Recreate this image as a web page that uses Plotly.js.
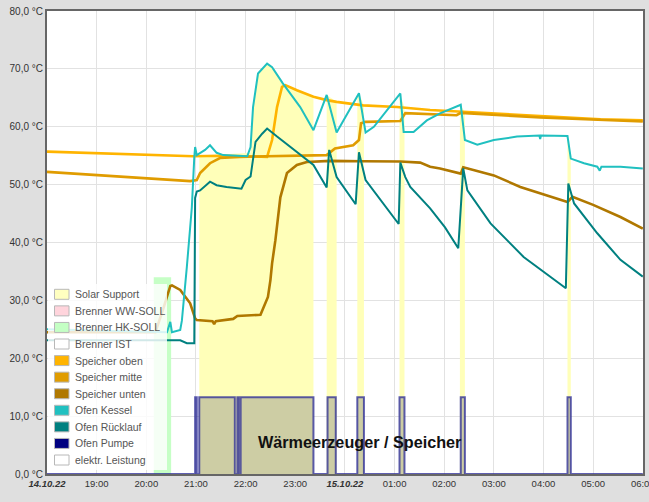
<!DOCTYPE html>
<html>
<head>
<meta charset="utf-8">
<script src="https://cdn.plot.ly/plotly-3.0.1.min.js"></script>
<style>html,body{margin:0;padding:0;background:#dfdfdf;}#chart{width:649px;height:502px;}</style>
</head>
<body>
<div id="chart"></div>
<script>
// ---------- data ----------
const hourTicks = ['18:00','19:00','20:00','21:00','22:00','23:00','00:00','01:00','02:00','03:00','04:00','05:00','06:00'];
const hourLabels = ['<b><i>14.10.22</i></b>','19:00','20:00','21:00','22:00','23:00','<b><i>15.10.22</i></b>','01:00','02:00','03:00','04:00','05:00','06:00'];
const yTicks = [0,10,20,30,40,50,60,70,80];
const yLabels = ['0,0 °C','10,0 °C','20,0 °C','30,0 °C','40,0 °C','50,0 °C','60,0 °C','70,0 °C','80,0 °C'];

const seriesNames = ['Solar Support','Brenner WW-SOLL','Brenner HK-SOLL','Brenner IST','Speicher oben','Speicher mitte','Speicher unten','Ofen Kessel','Ofen Rücklauf','Ofen Pumpe','elektr. Leistung'];
const seriesColors = ['#ffffc0','#ffd4dc','#c4ffc4','#ffffff','#ffb400','#e09c00','#b07800','#20c0c0','#008080','#000080','#ffffff'];

const solarT = ['18:00','21:04','21:04','22:06','22:09','22:15','22:26','22:32','22:45','22:48','23:02','23:22','23:22','23:38','23:38','23:50','23:50','00:15','00:15','00:17','00:23','00:23','01:06','01:06','01:12','01:12','02:19','02:19','02:25','02:25','04:29','04:29','04:33','04:33','06:00'];
const solarV = [0,0,55.0,55.5,63.4,69.2,70.9,70.3,67.5,67.2,66.3,65.2,0,0,65.5,64.3,0,0,65.5,65.8,63.7,0,0,65.8,63.4,0,0,63.8,62.6,0,0,58.4,55.0,0,0];

const hkT = ['18:00','20:09','20:30','06:00'];
const hkV = [0,34,0,0];

const obenT = ['18:00','19:04','20:01','20:57','21:30','22:00','22:26','22:32','22:38','22:44','22:48','23:02','23:22','23:38','23:50','00:22','01:03','01:43','02:20','03:56','05:09','06:00'];
const obenV = [55.7,55.4,55.15,54.9,55.0,54.9,54.8,57.7,63.4,66.9,67.2,66.3,65.2,64.6,64.3,63.7,63.4,62.9,62.6,61.8,61.3,61.1];

const mitteT = ['18:00','19:04','20:01','20:53','21:01','21:05','21:17','21:29','21:53','22:50','23:38','23:48','00:10','00:17','00:19:30','00:25','01:07','01:13','02:15','02:20','03:56','06:00'];
const mitteV = [52.2,51.6,51.1,50.6,50.8,52.0,53.7,54.6,54.8,55.0,55.1,56.25,56.8,57.7,60.6,60.85,61.0,62.35,62.0,62.4,61.6,60.9];

const untenT = ['18:00','20:11','20:20','20:29','20:31','20:41','20:53','20:57','20:59','21:01','21:20','21:22','21:24','21:45','21:50','22:18','22:22','22:27','22:30','22:32','22:36','22:39','22:42','22:50','23:02','23:14','23:42','00:22','01:07','01:31','01:43','01:55','02:20','02:23','03:00','03:32','04:29','04:35','05:00','05:33','06:00'];
const untenV = [24.5,24.5,28.3,32.5,32.6,31.8,29.5,27.8,26.9,26.6,26.4,25.9,26.4,26.8,27.3,27.5,28.9,30.6,33.5,36.4,40.4,44.4,47.8,52.0,53.4,53.9,54.1,54.05,54.0,53.8,53.1,52.8,51.9,53.0,51.6,49.6,47.0,47.9,46.5,44.4,42.4];

const kesselT = ['18:00','20:11','20:25','20:29','20:31','20:41','20:43','20:49','20:55','20:58','20:59','21:01','21:05','21:11','21:17','21:25','21:33','22:02','22:06','22:09','22:15','22:26','22:32','22:45','23:06','23:22','23:38','23:50','00:17','00:25','00:35','01:07','01:11','01:23','01:39','01:55','02:20','02:25','02:40','03:00','03:28','03:55','03:56','03:57','04:29','04:33','04:49','05:05','05:08','05:10','05:33','06:00'];
const kesselV = [25.0,24.6,24.5,26.3,24.5,24.9,26.5,35.8,46.0,54.7,56.5,55.1,55.5,56.0,56.8,55.5,55.1,54.9,56.5,63.4,69.2,70.9,70.3,67.5,63.4,59.4,65.5,59.0,65.8,59.0,60.0,65.75,59.1,59.1,61.1,62.3,63.8,57.7,56.9,57.7,58.3,58.5,57.9,58.5,58.4,54.5,53.7,53.1,52.4,53.1,53.1,52.8];

const ruecklaufT = ['18:00','20:41','20:49','20:58','20:59','21:01','21:05','21:17','21:25','21:37','21:55','22:00','22:06','22:08','22:12','22:20','22:26','22:38','22:54','23:14','23:22','23:38','23:41','23:50','00:13','00:17','00:25','01:05','01:07','01:13','01:19','01:43','02:01','02:17','02:23','02:28','02:56','03:36','04:27','04:30','04:37','05:05','05:33','06:00'];
const ruecklaufV = [23.1,23.1,22.6,22.6,47.7,48.8,49.0,50.5,49.9,49.6,49.3,50.8,51.4,53.7,57.4,58.8,59.7,58.3,56.5,54.2,53.4,49.5,56.0,51.3,46.6,55.6,50.8,43.2,53.8,51.3,49.6,45.9,42.6,39.0,52.8,49.0,43.3,37.5,32.1,50.2,46.75,41.6,37.0,34.1];

const pumpeT = ['18:00','20:59','21:01','21:04','21:47','21:50','21:52','21:54','23:22','23:39','23:49','00:15','00:23','01:06','01:12','02:20','02:25','04:29','04:33','06:00'];
const pumpeV = [0,13.25,0,13.25,0,13.25,0,13.25,0,13.25,0,13.25,0,13.25,0,13.25,0,13.25,0,0];

// ---------- helpers ----------
function T(s){ const h = parseInt(s.split(':')[0],10); return (h >= 18 ? '2022-10-14 ' : '2022-10-15 ') + s; }
const X = a => a.map(T);

const traces = [
  {x:X(solarT), y:solarV, name:seriesNames[0], mode:'lines', line:{width:0, color:seriesColors[0]}, fill:'tozeroy', fillcolor:'rgba(255,255,185,1)', hoverinfo:'skip'},
  {x:X(hkT), y:hkV, name:seriesNames[2], mode:'lines', line:{width:0, shape:'hv', color:seriesColors[2]}, fill:'tozeroy', fillcolor:'#c6ffc6', hoverinfo:'skip'},
  {x:X(pumpeT), y:pumpeV, name:seriesNames[9], mode:'lines', line:{width:0, shape:'hv'}, fill:'tozeroy', fillcolor:'rgba(20,20,90,0.21)', hoverinfo:'skip'},
  {x:X(obenT), y:obenV, name:seriesNames[4], mode:'lines', line:{width:2.6, color:seriesColors[4]}},
  {x:X(mitteT), y:mitteV, name:seriesNames[5], mode:'lines', line:{width:2.6, color:seriesColors[5]}},
  {x:X(untenT), y:untenV, name:seriesNames[6], mode:'lines', line:{width:2.6, color:seriesColors[6]}},
  {x:X(kesselT), y:kesselV, name:seriesNames[7], mode:'lines', line:{width:2, color:seriesColors[7]}},
  {x:X(ruecklaufT), y:ruecklaufV, name:seriesNames[8], mode:'lines', line:{width:2, color:seriesColors[8]}},
  {x:X(pumpeT), y:pumpeV, name:seriesNames[9], mode:'lines', line:{width:2, shape:'hv', color:'rgba(40,40,150,0.75)'}}
];

// ---------- legend built from names/colours ----------
const plotL = 47, plotR = 643, plotT = 11, plotB = 474;
const px = v => (v - plotL) / (plotR - plotL);
const py = v => (plotB - v) / (plotB - plotT);
const shapes = [{type:'rect', xref:'paper', yref:'paper', x0:px(48), x1:px(167), y0:py(470), y1:py(284), fillcolor:'rgba(255,255,255,0.82)', line:{width:0}, layer:'above'}];
const annotations = [];
seriesNames.forEach((n,i) => {
  const cy = 294.3 + i*16.57;
  shapes.push({type:'rect', xref:'paper', yref:'paper', x0:px(54.5), x1:px(69), y0:py(cy+5), y1:py(cy-5), fillcolor:seriesColors[i], line:{width:1, color:'#b8b8b8'}, layer:'above'});
  annotations.push({xref:'paper', yref:'paper', x:px(73), y:py(cy), xanchor:'left', yanchor:'middle', text:n, showarrow:false, font:{family:'Liberation Sans, Arial, sans-serif', size:10.5, color:'#555'}});
});
annotations.push({xref:'paper', yref:'paper', x:px(360.5), y:py(442), xanchor:'center', yanchor:'middle', text:'Wärmeerzeuger / Speicher', showarrow:false, font:{family:'Liberation Sans, Arial, sans-serif', size:16.2, color:'#111', weight:'bold'}});

const layout = {
  width:649, height:502,
  margin:{l:47, r:6, t:11, b:28, pad:0},
  paper_bgcolor:'#dfdfdf', plot_bgcolor:'#ffffff',
  showlegend:false,
  font:{family:'Liberation Sans, Arial, sans-serif', size:10, color:'#333'},
  xaxis:{type:'date', range:[T('18:00'), T('06:00:15')], tickmode:'array', tickvals:X(hourTicks), ticktext:hourLabels,
         showgrid:true, gridcolor:'#e2e2e2', gridwidth:1, zeroline:false, showline:true, mirror:true, linecolor:'#666', linewidth:2,
         ticks:'', tickfont:{size:9.5, color:'#333'}, ticklabeloverflow:'allow', layer:'below traces', fixedrange:true},
  yaxis:{range:[0,80], tickmode:'array', tickvals:yTicks, ticktext:yLabels, showgrid:true, gridcolor:'#e2e2e2', gridwidth:1,
         zeroline:false, showline:true, mirror:true, linecolor:'#666', linewidth:2, ticks:'', tickfont:{size:10, color:'#333'}, fixedrange:true},
  shapes:shapes, annotations:annotations
};

Plotly.newPlot('chart', traces, layout, {displayModeBar:false, staticPlot:true});
</script>
</body>
</html>
